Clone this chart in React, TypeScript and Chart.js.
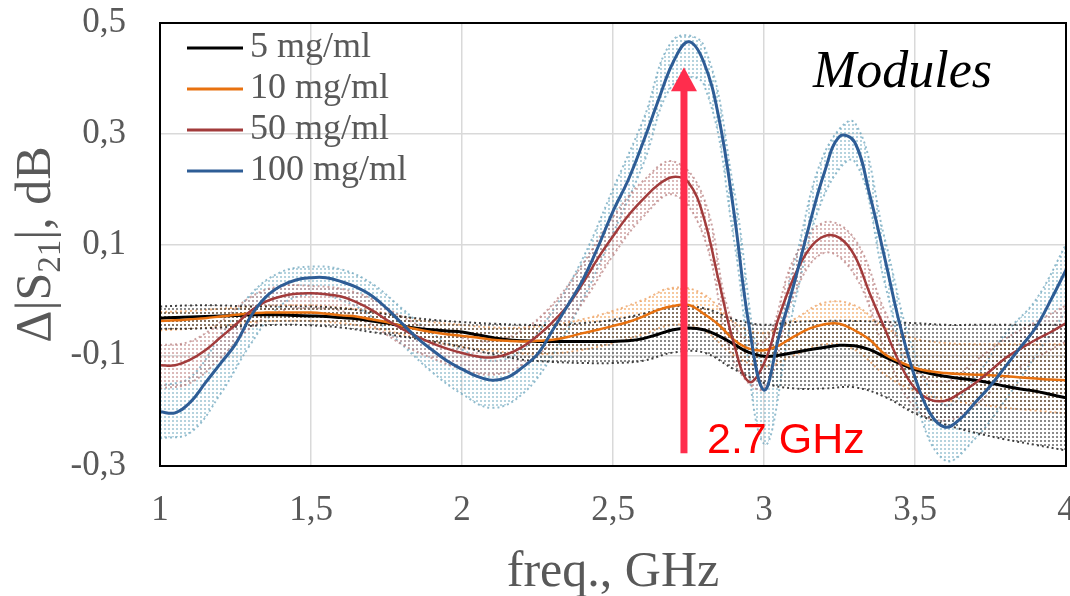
import React, { useEffect, useRef } from 'react';
import { Chart, registerables } from 'chart.js';

Chart.register(...registerables);

// ---------- data ----------
const FREQ = [
  1.0, 1.05, 1.1, 1.15, 1.2, 1.25, 1.3, 1.35, 1.4, 1.45,
  1.5, 1.55, 1.6, 1.65, 1.7, 1.75, 1.8, 1.85, 1.9, 1.95,
  2.0, 2.05, 2.1, 2.15, 2.2, 2.25, 2.3, 2.35, 2.4, 2.45,
  2.5, 2.55, 2.6, 2.65, 2.7, 2.75, 2.8, 2.85, 2.9, 2.95,
  3.0, 3.05, 3.1, 3.15, 3.2, 3.25, 3.3, 3.35, 3.4, 3.45,
  3.5, 3.55, 3.6, 3.65, 3.7, 3.75, 3.8, 3.85, 3.9, 3.95, 4.0,
];

const S5 = [
  -0.033, -0.032, -0.031, -0.03, -0.029, -0.028, -0.027, -0.027, -0.027, -0.028,
  -0.029, -0.03, -0.032, -0.034, -0.038, -0.042, -0.047, -0.051, -0.054, -0.056,
  -0.058, -0.063, -0.068, -0.072, -0.074, -0.075, -0.075, -0.075, -0.075, -0.075,
  -0.075, -0.074, -0.07, -0.062, -0.054, -0.051, -0.054, -0.065, -0.08, -0.095,
  -0.102, -0.1, -0.095, -0.09, -0.086, -0.082, -0.083, -0.09, -0.103, -0.115,
  -0.126, -0.133, -0.138, -0.142, -0.145, -0.15, -0.156, -0.161, -0.165, -0.171, -0.177,
];

const S10 = [
  -0.038, -0.037, -0.035, -0.033, -0.03, -0.027, -0.024, -0.023, -0.023, -0.023,
  -0.023, -0.025, -0.028, -0.03, -0.035, -0.04, -0.047, -0.053, -0.058, -0.062,
  -0.065, -0.068, -0.072, -0.074, -0.075, -0.074, -0.072, -0.067, -0.06, -0.054,
  -0.047, -0.04, -0.03, -0.018, -0.011, -0.009, -0.025, -0.045, -0.072, -0.088,
  -0.091, -0.082, -0.066, -0.052, -0.044, -0.043, -0.055, -0.072, -0.098, -0.112,
  -0.123, -0.129, -0.132, -0.134, -0.135, -0.136, -0.138, -0.14, -0.142, -0.144, -0.145,
];

const S50 = [
  -0.118, -0.118, -0.108, -0.091, -0.068, -0.045, -0.02, -0.003, 0.006, 0.011,
  0.012, 0.01, 0.006, -0.004, -0.018, -0.036, -0.052, -0.066, -0.078, -0.088,
  -0.096, -0.102, -0.104, -0.098, -0.085, -0.065, -0.04, -0.01, 0.03, 0.075,
  0.115, 0.152, 0.182, 0.208, 0.222, 0.212, 0.15, 0.035, -0.078, -0.148,
  -0.115, -0.03, 0.042, 0.092, 0.115, 0.112, 0.08, 0.012, -0.052, -0.115,
  -0.16, -0.18, -0.182, -0.168, -0.15, -0.128, -0.105, -0.088, -0.072, -0.058, -0.042,
];

const S100 = [
  -0.202, -0.204, -0.185, -0.15, -0.115, -0.08, -0.03, 0.005, 0.025, 0.036,
  0.04, 0.04, 0.033, 0.023, 0.008, -0.015, -0.042, -0.068, -0.09, -0.11,
  -0.125, -0.138, -0.145, -0.14, -0.122, -0.098, -0.055, -0.01, 0.036, 0.095,
  0.16, 0.216, 0.285, 0.36, 0.43, 0.466, 0.43, 0.33, 0.16, -0.045,
  -0.163, -0.065, 0.03, 0.135, 0.23, 0.295, 0.285, 0.19, 0.075, -0.045,
  -0.14, -0.205, -0.23, -0.215, -0.185, -0.155, -0.12, -0.085, -0.05, 0.0, 0.054,
];

// spread envelopes (upper / lower) of the repeated measurements
const BAND_FREQ = [
  1.0, 1.1, 1.2, 1.3, 1.4, 1.5, 1.6, 1.7, 1.8, 1.9,
  2.0, 2.1, 2.2, 2.3, 2.4, 2.5, 2.6, 2.7, 2.8, 2.9,
  3.0, 3.1, 3.2, 3.3, 3.4, 3.5, 3.6, 3.7, 3.8, 3.9, 4.0,
];

const S5_HI = [
  -0.012, -0.01, -0.01, -0.012, -0.012, -0.012, -0.015, -0.022, -0.03, -0.036,
  -0.04, -0.043, -0.045, -0.045, -0.042, -0.036, -0.025, -0.012, -0.015, -0.035,
  -0.045, -0.04, -0.038, -0.038, -0.04, -0.042, -0.045, -0.045, -0.045, -0.045, -0.045,
];
const S5_LO = [
  -0.052, -0.052, -0.05, -0.047, -0.045, -0.046, -0.05, -0.058, -0.066, -0.075,
  -0.085, -0.098, -0.108, -0.112, -0.114, -0.114, -0.11, -0.095, -0.095, -0.125,
  -0.15, -0.16, -0.16, -0.158, -0.175, -0.205, -0.225, -0.24, -0.252, -0.262, -0.272,
];

const S10_HI = [
  -0.022, -0.02, -0.016, -0.012, -0.01, -0.01, -0.014, -0.02, -0.03, -0.04,
  -0.045, -0.05, -0.05, -0.045, -0.035, -0.02, 0.0, 0.022, 0.01, -0.04,
  -0.06, -0.035, -0.005, -0.01, -0.05, -0.07, -0.078, -0.08, -0.08, -0.08, -0.08,
];
const S10_LO = [
  -0.055, -0.052, -0.048, -0.04, -0.038, -0.038, -0.042, -0.05, -0.062, -0.075,
  -0.085, -0.092, -0.097, -0.097, -0.09, -0.078, -0.062, -0.045, -0.055, -0.1,
  -0.12, -0.1, -0.08, -0.09, -0.135, -0.165, -0.18, -0.188, -0.195, -0.2, -0.205,
];

const S50_HI = [
  -0.082, -0.075, -0.04, 0.005, 0.025, 0.025, 0.02, 0.002, -0.03, -0.055,
  -0.068, -0.075, -0.055, -0.008, 0.065, 0.15, 0.215, 0.25, 0.185, -0.045,
  -0.075, 0.075, 0.14, 0.11, -0.02, -0.125, -0.148, -0.11, -0.07, -0.04, -0.01,
];
const S50_LO = [
  -0.16, -0.15, -0.105, -0.05, -0.02, -0.015, -0.02, -0.045, -0.08, -0.105,
  -0.125, -0.135, -0.118, -0.075, -0.005, 0.08, 0.15, 0.19, 0.115, -0.11,
  -0.16, 0.01, 0.085, 0.045, -0.09, -0.195, -0.218, -0.19, -0.14, -0.105, -0.075,
];

const S100_HI = [
  -0.155, -0.14, -0.065, 0.01, 0.05, 0.06, 0.055, 0.03, -0.015, -0.06,
  -0.09, -0.11, -0.09, -0.02, 0.075, 0.2, 0.325, 0.47, 0.46, 0.2,
  -0.12, 0.065, 0.265, 0.32, 0.11, -0.1, -0.19, -0.14, -0.06, 0.0, 0.1,
];
const S100_LO = [
  -0.25, -0.24, -0.17, -0.08, -0.01, 0.01, 0.0, -0.03, -0.08, -0.13,
  -0.17, -0.195, -0.17, -0.1, 0.0, 0.12, 0.245, 0.39, 0.39, 0.11,
  -0.26, -0.01, 0.19, 0.25, 0.03, -0.18, -0.29, -0.25, -0.18, -0.1, -0.02,
];

const SERIES_LABELS = ['5 mg/ml', '10 mg/ml', '50 mg/ml', '100 mg/ml'];

const X_TICKS = [1, 1.5, 2, 2.5, 3, 3.5, 4];
const X_TICK_LABELS = ['1', '1,5', '2', '2,5', '3', '3,5', '4'];
const Y_TICKS = [-0.3, -0.1, 0.1, 0.3, 0.5];
const Y_TICK_LABELS = ['-0,3', '-0,1', '0,1', '0,3', '0,5'];

const X_TITLE = 'freq., GHz';
const PANEL_LABEL = 'Modules';
const ARROW_FREQ = 2.735;
const ARROW_TOP = 0.42;
const ARROW_BOTTOM = -0.277;
const ARROW_LABEL = '2.7 GHz';

// ---------- styles ----------
const LINE_COLORS = ['#000000', '#E8710F', '#A23B3B', '#2E5D96'];
const LINE_WIDTHS = [3, 2.5, 2.5, 3];
const DOT_COLORS = [
  'rgba(60,60,60,0.6)',
  'rgba(240,165,95,0.6)',
  'rgba(190,130,130,0.55)',
  'rgba(120,175,195,0.55)',
];
const EDGE_COLORS = [
  'rgba(30,30,30,0.85)',
  'rgba(235,150,80,0.7)',
  'rgba(175,110,110,0.65)',
  'rgba(100,160,185,0.7)',
];
const TEXT_GREY = '#595959';
const SERIF = '"Liberation Serif", "Times New Roman", serif';
const TENSION = 0.4;

function makeDotPattern(color: string): CanvasPattern | string {
  const c = document.createElement('canvas');
  c.width = 4;
  c.height = 4;
  const g = c.getContext('2d');
  if (!g) return color;
  g.fillStyle = color;
  g.fillRect(0, 0, 2, 2);
  const p = g.createPattern(c, 'repeat');
  return p || color;
}

const decorPlugin = {
  id: 'decor',
  afterDatasetsDraw(chart: any) {
    const { ctx, chartArea: a, scales } = chart;
    ctx.save();
    // frame
    ctx.strokeStyle = '#000';
    ctx.lineWidth = 2;
    ctx.strokeRect(a.left, a.top, a.right - a.left, a.bottom - a.top);

    // arrow
    const ax = scales.x.getPixelForValue(ARROW_FREQ);
    const yt = scales.y.getPixelForValue(ARROW_TOP);
    const yb = scales.y.getPixelForValue(ARROW_BOTTOM);
    const headH = 24;
    const headW = 26;
    const shaftW = 7;
    ctx.fillStyle = '#FF2D4D';
    ctx.fillRect(ax - shaftW / 2, yt + headH - 1, shaftW, yb - (yt + headH - 1));
    ctx.beginPath();
    ctx.moveTo(ax, yt);
    ctx.lineTo(ax + headW / 2, yt + headH);
    ctx.lineTo(ax - headW / 2, yt + headH);
    ctx.closePath();
    ctx.fill();

    ctx.fillStyle = '#FF0000';
    ctx.font = '43px "Liberation Sans", Arial, sans-serif';
    ctx.textAlign = 'left';
    ctx.textBaseline = 'alphabetic';
    ctx.fillText(ARROW_LABEL, ax + 23, yb);

    // panel label
    ctx.fillStyle = '#000';
    ctx.font = 'italic 52px ' + SERIF;
    ctx.fillText(PANEL_LABEL, a.right - 253, a.top + 64);

    // legend
    ctx.font = '36px ' + SERIF;
    ctx.textBaseline = 'middle';
    for (let i = 0; i < SERIES_LABELS.length; i++) {
      const y = a.top + 25 + i * 41;
      ctx.strokeStyle = LINE_COLORS[i];
      ctx.lineWidth = 3;
      ctx.beginPath();
      ctx.moveTo(a.left + 27, y);
      ctx.lineTo(a.left + 83, y);
      ctx.stroke();
      ctx.fillStyle = TEXT_GREY;
      ctx.fillText(SERIES_LABELS[i], a.left + 90, y);
    }
    ctx.restore();
  },
  afterDraw(chart: any) {
    const { ctx, chartArea: a } = chart;
    ctx.save();
    ctx.fillStyle = TEXT_GREY;
    // x title
    ctx.font = '50px ' + SERIF;
    ctx.textAlign = 'center';
    ctx.textBaseline = 'alphabetic';
    ctx.fillText(X_TITLE, (a.left + a.right) / 2, 586);

    // y title with subscript: Δ|S21|, dB
    const big = '50px ' + SERIF;
    const small = '33px ' + SERIF;
    const parts = [
      { t: 'Δ|S', f: big, dy: 0 },
      { t: '21', f: small, dy: 10 },
      { t: '|, dB', f: big, dy: 0 },
    ];
    let total = 0;
    for (const p of parts) {
      ctx.font = p.f;
      total += ctx.measureText(p.t).width;
    }
    ctx.translate(50, (a.top + a.bottom) / 2);
    ctx.rotate(-Math.PI / 2);
    ctx.textAlign = 'left';
    let x = -total / 2;
    for (const p of parts) {
      ctx.font = p.f;
      ctx.fillText(p.t, x, p.dy);
      x += ctx.measureText(p.t).width;
    }
    ctx.restore();
  },
};

export default function App() {
  const ref = useRef<HTMLCanvasElement | null>(null);

  useEffect(() => {
    if (!ref.current) return;
    const means = [S5, S10, S50, S100];
    const his = [S5_HI, S10_HI, S50_HI, S100_HI];
    const los = [S5_LO, S10_LO, S50_LO, S100_LO];

    const datasets: any[] = means.map((arr, i) => ({
      label: SERIES_LABELS[i],
      data: FREQ.map((f, k) => ({ x: f, y: arr[k] })),
      borderColor: LINE_COLORS[i],
      borderWidth: LINE_WIDTHS[i],
      pointRadius: 0,
      tension: TENSION,
      fill: false,
      order: 3 - i,
    }));

    for (let i = 0; i < 4; i++) {
      const upperIndex = datasets.length;
      datasets.push({
        label: SERIES_LABELS[i] + ' upper',
        data: BAND_FREQ.map((f, k) => ({ x: f, y: his[i][k] })),
        borderColor: EDGE_COLORS[i],
        borderWidth: 2,
        borderDash: [2, 3],
        pointRadius: 0,
        tension: TENSION,
        backgroundColor: makeDotPattern(DOT_COLORS[i]),
        fill: { target: upperIndex + 1 },
        order: 10 + i,
      });
      datasets.push({
        label: SERIES_LABELS[i] + ' lower',
        data: BAND_FREQ.map((f, k) => ({ x: f, y: los[i][k] })),
        borderColor: EDGE_COLORS[i],
        borderWidth: 2,
        borderDash: [2, 3],
        pointRadius: 0,
        tension: TENSION,
        fill: false,
        order: 10 + i,
      });
    }

    const tickFont = { family: SERIF, size: 35 };

    const chart = new Chart(ref.current, {
      type: 'line',
      data: { datasets },
      options: {
        animation: false,
        responsive: false,
        devicePixelRatio: 1,
        layout: { padding: { top: 23, right: 4, left: 0, bottom: 0 } },
        plugins: {
          legend: { display: false },
          tooltip: { enabled: false },
        },
        scales: {
          x: {
            type: 'linear',
            min: 1,
            max: 4,
            afterBuildTicks: (scale: any) => {
              scale.ticks = X_TICKS.map((v) => ({ value: v }));
            },
            afterFit: (scale: any) => {
              scale.height = 130;
              scale.paddingLeft = 0;
              scale.paddingRight = 0;
            },
            ticks: {
              autoSkip: false,
              maxRotation: 0,
              padding: 24,
              color: TEXT_GREY,
              font: tickFont,
              callback: (_v: any, i: number) => X_TICK_LABELS[i],
            },
            grid: { color: '#D9D9D9', lineWidth: 1.5, drawTicks: false },
            border: { display: false },
          },
          y: {
            type: 'linear',
            min: -0.3,
            max: 0.5,
            afterBuildTicks: (scale: any) => {
              scale.ticks = Y_TICKS.map((v) => ({ value: v }));
            },
            afterFit: (scale: any) => {
              scale.width = 160;
              scale.paddingTop = 0;
              scale.paddingBottom = 0;
            },
            ticks: {
              autoSkip: false,
              padding: 34,
              color: TEXT_GREY,
              font: tickFont,
              callback: (_v: any, i: number) => Y_TICK_LABELS[i],
            },
            grid: { color: '#D9D9D9', lineWidth: 1.5, drawTicks: false },
            border: { display: false },
          },
        },
      } as any,
      plugins: [decorPlugin],
    });
    return () => chart.destroy();
  }, []);

  return (
    <div style={{ position: 'fixed', left: 0, top: 0, width: 1070, height: 596, background: '#fff' }}>
      <canvas ref={ref} width={1070} height={596} style={{ display: 'block' }} />
    </div>
  );
}
